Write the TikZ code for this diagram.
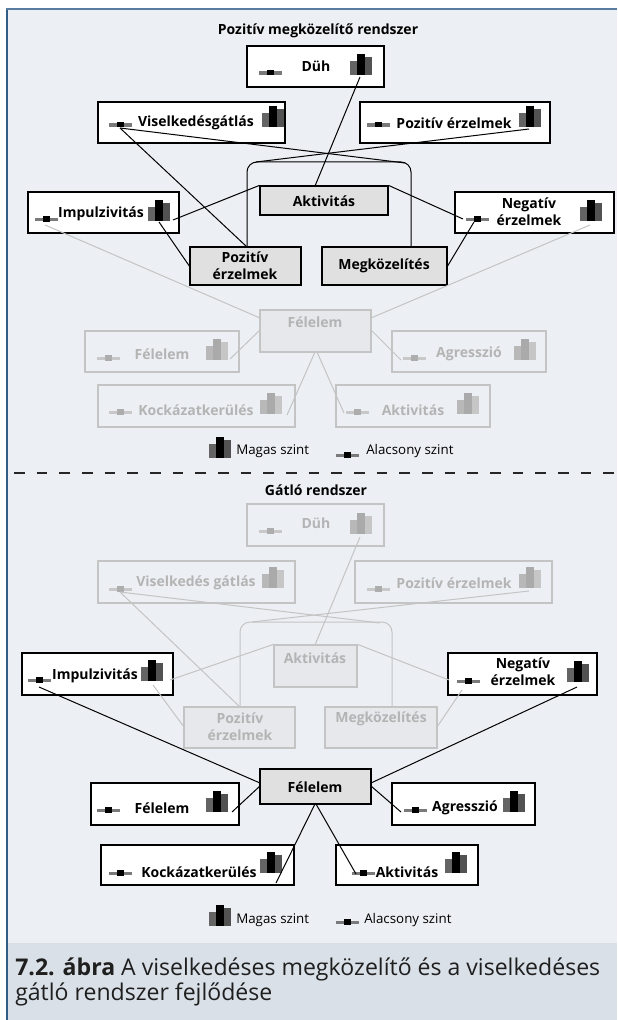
\documentclass[tikz,border=0pt]{standalone}
\usepackage{fontspec}
\setmainfont{Open Sans}
\usetikzlibrary{fit}

\definecolor{pagebg}{HTML}{ECEFF3}
\definecolor{capbg}{HTML}{D9E0E7}
\definecolor{framecol}{HTML}{2F5D86}
\definecolor{boxgray}{HTML}{E0E0E0}
\definecolor{fadeline}{HTML}{C4C4C4}
\definecolor{fadefill}{HTML}{E6E8EB}
\definecolor{fadetext}{HTML}{B4B4B4}
\definecolor{barL}{HTML}{646464}
\definecolor{barR}{HTML}{525252}
\definecolor{barLow}{HTML}{7A7A7A}
\definecolor{fbarL}{HTML}{B8B8B8}
\definecolor{fbarM}{HTML}{AAAAAA}
\definecolor{fbarR}{HTML}{C6C6C6}
\definecolor{fbarLow}{HTML}{C8C8C8}
\definecolor{fbarLowM}{HTML}{ADADAD}

\tikzset{
  whitebox/.style={draw=black, fill=white, line width=0.9pt, inner sep=0pt},
  graybox/.style={draw=black, fill=boxgray, line width=0.9pt, inner sep=0pt},
  fadebox/.style={draw=fadeline, line width=0.9pt, inner sep=0pt},
  fadegraybox/.style={draw=fadeline, fill=fadefill, line width=0.9pt, inner sep=0pt},
  lbl/.style={font=\bfseries\fontsize{10.5}{12.5}\selectfont, inner sep=0pt, align=center},
  fadelbl/.style={lbl, text=fadetext},
  headline/.style={font=\bfseries\fontsize{10.5}{12.5}\selectfont, inner sep=0pt},
  legendtext/.style={font=\fontsize{10}{12}\selectfont, inner sep=0pt, anchor=west},
  captext/.style={anchor=base west, inner sep=0pt, text=black!88, font=\fontsize{17.3}{21}\selectfont},
  link/.style={draw=black, line width=0.75pt},
  fadelink/.style={draw=fadeline, line width=0.75pt},
  hibars/.pic={
    \fill[barL] (0,0) rectangle (7,-14);
    \fill[black] (7,0) rectangle (15,-21);
    \fill[barR] (15,0) rectangle (22,-18);
  },
  lobars/.pic={
    \fill[barLow] (0,0) rectangle (8,-3.5);
    \fill[black] (8,0.5) rectangle (15,-5);
    \fill[barLow] (15,0) rectangle (23,-3.5);
  },
  fhibars/.pic={
    \fill[fbarL] (0,0) rectangle (7,-14);
    \fill[fbarM] (7,0) rectangle (15,-21);
    \fill[fbarR] (15,0) rectangle (22,-18);
  },
  flobars/.pic={
    \fill[fbarLow] (0,0) rectangle (8,-3.5);
    \fill[fbarLowM] (8,0.5) rectangle (15,-5);
    \fill[fbarLow] (15,0) rectangle (23,-3.5);
  },
}

\begin{document}
\begin{tikzpicture}[x=0.75pt, y=-0.75pt]
\useasboundingbox (0,0) rectangle (617,1020);

% page background, caption band and frame
\fill[white] (0,0) rectangle (617,1020);
\fill[pagebg] (7,9) rectangle (617,943);
\fill[capbg] (7,943) rectangle (617,1020);
\draw[framecol, line width=1.5pt] (6.5,1020) -- (6.5,9);
\draw[framecol!80, line width=1.2pt] (6,9) -- (617,9);

% ================= upper panel =================
\node[headline] (title1) at (318,31) {Pozitív megközelítő rendszer};

% open rounded frame joining the two lower grey boxes
\coordinate (rrBL) at (247,247);
\coordinate (rrBR) at (411,247);
\draw[link, rounded corners=7.5pt] (rrBL) |- (329,162) -| (rrBR);
\coordinate (rrTL) at (256,162);
\coordinate (rrTR) at (405,163);

\node[whitebox, fit={(247,46)(384,87)}] (duh) {};
\node[whitebox, fit={(98,102)(285,143)}] (viselk) {};
\node[whitebox, fit={(360,102)(550,143)}] (pozerz) {};
\node[graybox, fit={(260,186)(388,215)}] (akt) {};
\node[whitebox, fit={(28,192)(179,233)}] (impulz) {};
\node[whitebox, fit={(455,192)(614,233)}] (negerz) {};
\node[graybox, fit={(190,247)(301,285)}] (pozerzb) {};
\node[graybox, fit={(322,247)(447,285)}] (megk) {};

\node[fadegraybox, fit={(260,310)(371,352)}] (felf) {};
\node[fadebox, fit={(85,331)(239,372)}] (felfa) {};
\node[fadebox, fit={(392,331)(546,372)}] (agrf) {};
\node[fadebox, fit={(98,385)(295,427)}] (kockf) {};
\node[fadebox, fit={(336,385)(490,427)}] (aktf) {};

\node[lbl] (duh-t) at (316,66) {Düh};
\node[lbl] (viselk-t) at (196,123) {Viselkedésgátlás};
\node[lbl] (pozerz-t) at (454,123) {Pozitív érzelmek};
\node[lbl] (akt-t) at (324,201) {Aktivitás};
\node[lbl] (impulz-t) at (101,214) {Impulzivitás};
\node[lbl] (negerz-t) at (529,212) {Negatív\\érzelmek};
\node[lbl] (pozerzb-t) at (245,266) {Pozitív\\érzelmek};
\node[lbl] (megk-t) at (384,266) {Megközelítés};
\node[fadelbl] (felf-t) at (315,322) {Félelem};
\node[fadelbl] (felfa-t) at (162,354) {Félelem};
\node[fadelbl] (agrf-t) at (469,354) {Agresszió};
\node[fadelbl] (kockf-t) at (196,410) {Kockázatkerülés};
\node[fadelbl] (aktf-t) at (413,410) {Aktivitás};

\pic at (259,75) {lobars};   \pic at (350,75) {hibars};
\pic at (109,127) {lobars};  \pic at (262,127) {hibars};
\pic at (367,127) {lobars};  \pic at (519,127) {hibars};
\pic at (35,221) {lobars};   \pic at (148,221) {hibars};
\pic at (466,221) {lobars};  \pic at (580,221) {hibars};
\pic at (97,360) {flobars};  \pic at (206,360) {fhibars};
\pic at (403,360) {flobars}; \pic at (514,360) {fhibars};
\pic at (109,414) {flobars}; \pic at (260,414) {fhibars};
\pic at (346,414) {flobars}; \pic at (457,414) {fhibars};

% legend
\pic at (209,458) {hibars};
\node[legendtext] (leg1a) at (236,451) {Magas szint};
\pic at (336,457) {lobars};
\node[legendtext] (leg1b) at (366,451) {Alacsony szint};

% connector ports
\coordinate (duh-hi) at (360,77);
\coordinate (akt-in) at (315,186);
\coordinate (viselk-lo) at (120,128);
\coordinate (pozerz-hi) at (529,129);
\coordinate (impulz-hi) at (173,220);
\coordinate (impulz-hi2) at (159,222);
\coordinate (pozerzb-w) at (190,267);
\coordinate (negerz-lo) at (463,219);
\coordinate (negerz-lo2) at (474,222);
\coordinate (megk-e) at (447,267);
\coordinate (impulz-lo) at (45,225);
\coordinate (negerz-hi) at (590,225);
\coordinate (felf-nw) at (260,318);
\coordinate (felf-ne) at (371,318);
\coordinate (felf-w) at (260,330);
\coordinate (felf-e) at (371,330);
\coordinate (felf-s1) at (315,352);
\coordinate (felf-s2) at (317,352);
\coordinate (felfa-hi) at (230,359);
\coordinate (agrf-lo) at (401,360);
\coordinate (kockf-hi) at (287,415);
\coordinate (aktf-lo) at (344,413);

\draw[fadelink] (impulz-lo) -- (felf-nw);
\draw[fadelink] (negerz-hi) -- (felf-ne);
\draw[fadelink] (felf-w) -- (felfa-hi);
\draw[fadelink] (felf-e) -- (agrf-lo);
\draw[fadelink] (felf-s1) -- (kockf-hi);
\draw[fadelink] (felf-s2) -- (aktf-lo);

\draw[link] (duh-hi) -- (akt-in);
\draw[link] (viselk-lo) -- (rrTR);
\draw[link] (viselk-lo) -- (rrBL);
\draw[link] (pozerz-hi) -- (rrTL);
\draw[link] (impulz-hi) -- (akt.north west);
\draw[link] (impulz-hi2) -- (pozerzb-w);
\draw[link] (akt.north east) -- (negerz-lo);
\draw[link] (negerz-lo2) -- (megk-e);

% separator
\coordinate (sepL) at (14,473);
\coordinate (sepR) at (617,473);
\draw[black!85, line width=0.9pt, dash pattern=on 8pt off 9pt] (sepL) -- (sepR);

% ================= lower panel =================
\node[headline] (title2) at (316,490) {Gátló rendszer};

\coordinate (rrfBL) at (240,707);
\coordinate (rrfBR) at (392,707);
\draw[fadelink, rounded corners=7.5pt] (rrfBL) |- (316,622) -| (rrfBR);
\coordinate (rrfTL) at (252,622);
\coordinate (rrfTR) at (380,623);

\node[fadebox, fit={(247,504)(384,546)}] (duhg) {};
\node[fadebox, fit={(98,561)(295,603)}] (viselkg) {};
\node[fadebox, fit={(355,561)(552,603)}] (pozerzg) {};
\node[fadegraybox, fit={(274,645)(357,687)}] (aktg) {};
\node[fadegraybox, fit={(184,707)(295,748)}] (pozerzgb) {};
\node[fadegraybox, fit={(325,707)(437,748)}] (megkg) {};
\node[whitebox, fit={(22,653)(173,695)}] (impulzg) {};
\node[whitebox, fit={(448,653)(597,695)}] (negerzg) {};
\node[graybox, fit={(260,769)(371,804)}] (felg) {};
\node[whitebox, fit={(91,783)(239,825)}] (felga) {};
\node[whitebox, fit={(392,783)(535,825)}] (agrg) {};
\node[whitebox, fit={(101,845)(294,885)}] (kockg) {};
\node[whitebox, fit={(336,845)(478,885)}] (aktga) {};

\node[fadelbl] (duhg-t) at (316,523) {Düh};
\node[fadelbl] (viselkg-t) at (196,583) {Viselkedés gátlás};
\node[fadelbl] (pozerzg-t) at (454,583) {Pozitív érzelmek};
\node[fadelbl] (aktg-t) at (315,658) {Aktivitás};
\node[fadelbl] (pozerzgb-t) at (240,727) {Pozitív\\érzelmek};
\node[fadelbl] (megkg-t) at (381,719) {Megközelítés};
\node[lbl] (impulzg-t) at (95,676) {Impulzivitás};
\node[lbl] (negerzg-t) at (523,672) {Negatív\\érzelmek};
\node[lbl] (felg-t) at (315,787) {Félelem};
\node[lbl] (felga-t) at (162,808) {Félelem};
\node[lbl] (agrg-t) at (465,808) {Agresszió};
\node[lbl] (kockg-t) at (199,872) {Kockázatkerülés};
\node[lbl] (aktga-t) at (407,872) {Aktivitás};

\pic at (259,533) {flobars};  \pic at (350,534) {fhibars};
\pic at (109,591) {flobars};  \pic at (262,588) {fhibars};
\pic at (367,591) {flobars};  \pic at (519,588) {fhibars};
\pic at (28,682) {lobars};    \pic at (141,681) {hibars};
\pic at (457,683) {lobars};   \pic at (567,682) {hibars};
\pic at (97,812) {lobars};    \pic at (206,812) {hibars};
\pic at (404,812) {lobars};   \pic at (503,812) {hibars};
\pic at (109,875) {lobars};   \pic at (260,873) {hibars};
\pic at (352,875) {lobars};   \pic at (445,873) {hibars};

% legend
\pic at (209,926) {hibars};
\node[legendtext] (leg2a) at (236,920) {Magas szint};
\pic at (336,924) {lobars};
\node[legendtext] (leg2b) at (364,920) {Alacsony szint};

% connector ports
\coordinate (duhg-hi) at (360,537);
\coordinate (aktg-in) at (315,645);
\coordinate (viselkg-lo) at (120,592);
\coordinate (pozerzg-hi) at (529,591);
\coordinate (impulzg-hi) at (170,680);
\coordinate (impulzg-hi2) at (153,685);
\coordinate (pozerzgb-w) at (184,727);
\coordinate (negerzg-w) at (449,680);
\coordinate (negerzg-lo2) at (462,690);
\coordinate (megkg-e) at (437,727);
\coordinate (impulzg-lo) at (39,687);
\coordinate (negerzg-hi) at (577,687);
\coordinate (felg-nw) at (260,783);
\coordinate (felg-ne) at (371,783);
\coordinate (felg-w) at (260,786);
\coordinate (felg-e) at (371,786);
\coordinate (felg-s1) at (315,804);
\coordinate (felg-s2) at (316,804);
\coordinate (felga-hi) at (232,812);
\coordinate (agrg-lo) at (401,812);
\coordinate (kockg-hi) at (276,883);
\coordinate (aktga-lo) at (356,874);

\draw[fadelink] (duhg-hi) -- (aktg-in);
\draw[fadelink] (viselkg-lo) -- (rrfTR);
\draw[fadelink] (viselkg-lo) -- (rrfBL);
\draw[fadelink] (pozerzg-hi) -- (rrfTL);
\draw[fadelink] (impulzg-hi) -- (aktg.north west);
\draw[fadelink] (impulzg-hi2) -- (pozerzgb-w);
\draw[fadelink] (aktg.north east) -- (negerzg-w);
\draw[fadelink] (negerzg-lo2) -- (megkg-e);

\draw[link] (impulzg-lo) -- (felg-nw);
\draw[link] (negerzg-hi) -- (felg-ne);
\draw[link] (felg-w) -- (felga-hi);
\draw[link] (felg-e) -- (agrg-lo);
\draw[link] (felg-s1) -- (kockg-hi);
\draw[link] (felg-s2) -- (aktga-lo);

% caption
\node[captext] (cap1) at (15,975)
  {\textbf{7.2. ábra} A viselkedéses megközelítő és a viselkedéses};
\node[captext] (cap2) at (15,1000) {gátló rendszer fejlődése};
\end{tikzpicture}
\end{document}
